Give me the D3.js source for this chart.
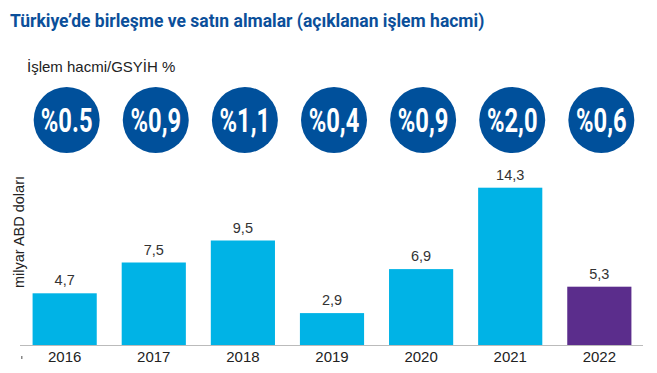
<!DOCTYPE html>
<html>
<head>
<meta charset="utf-8">
<script src="https://d3js.org/d3.v7.min.js"></script>
<style>
  body { margin: 0; background: #fff; }
  svg { font-family: "Liberation Sans", Arial, sans-serif; }
</style>
</head>
<body>
<svg id="chart" width="657" height="373"></svg>
<script>
var years = ["2016","2017","2018","2019","2020","2021","2022"]
var values = [4.7, 7.5, 9.5, 2.9, 6.9, 14.3, 5.3]
var ratios = ["%0.5","%0,9","%1,1","%0,4","%0,9","%2,0","%0,6"]

var svg = d3.select("#chart")

var x = d3.scaleBand().domain(years).range([21, 643]).paddingInner(0.28).paddingOuter(0.13)
var y = d3.scaleLinear().domain([0, 15]).range([345, 180])

// title + subtitle
svg.append("text").attr("x", 10).attr("y", 27)
  .attr("font-size", 17.5).attr("font-weight", "bold").attr("fill", "#0b4f9a")
  .attr("font-family", "Roboto, 'Liberation Sans', sans-serif")
  .text("Türkiye’de birleşme ve satın almalar (açıklanan işlem hacmi)")

svg.append("text").attr("x", 27).attr("y", 72)
  .attr("font-size", 15).attr("fill", "#222")
  .text("İşlem hacmi/GSYİH %")

// circles with ratio
var bubbles = svg.append("g").selectAll("g").data(years).enter().append("g")
  .attr("transform", function(d){ return "translate(" + (x(d) + x.bandwidth()/2 + 2) + ",120)" })
bubbles.append("circle").attr("r", 33).attr("fill", "#00509b")
bubbles.append("text").attr("text-anchor", "middle").attr("y", 12)
  .attr("transform", "scale(0.72,1)")
  .attr("font-family", "Roboto, sans-serif").attr("font-weight", "bold")
  .attr("font-size", 33).attr("fill", "#fff")
  .text(function(d, i){ return ratios[i] })

// y label
svg.append("text").attr("transform", "translate(24,232) rotate(-90)")
  .attr("text-anchor", "middle").attr("font-size", 14.5).attr("fill", "#222")
  .text("milyar ABD doları")

// bars
svg.append("g").selectAll("rect").data(values).enter().append("rect")
  .attr("x", function(d, i){ return x(years[i]) })
  .attr("y", function(d){ return y(d) })
  .attr("width", x.bandwidth())
  .attr("height", function(d){ return y(0) - y(d) })
  .attr("fill", function(d, i){ return years[i] == "2022" ? "#5b2d8c" : "#00b3e6" })

// value labels
svg.append("g").selectAll("text").data(values).enter().append("text")
  .attr("x", function(d, i){ return x(years[i]) + x.bandwidth()/2 })
  .attr("y", function(d){ return y(d) - 8 })
  .attr("text-anchor", "middle").attr("font-size", 14.5).attr("fill", "#333")
  .text(function(d){ return String(d).replace(".", ",") })

// baseline + axis
svg.append("line").attr("x1", 20).attr("x2", 643).attr("y1", y(0) + 0.5).attr("y2", y(0) + 0.5)
  .attr("stroke", "#bbb").attr("stroke-width", 1)

var xAxis = svg.append("g").attr("transform", "translate(0," + y(0) + ")")
  .call(d3.axisBottom(x).tickSize(0).tickPadding(6))
xAxis.select(".domain").remove()
xAxis.selectAll("text").attr("font-size", 15).attr("fill", "#222")
  .attr("font-family", "'Liberation Sans', Arial, sans-serif")

svg.append("rect").attr("x", 21).attr("y", 356).attr("width", 1.5).attr("height", 3).attr("fill", "#888")
</script>
</body>
</html>
